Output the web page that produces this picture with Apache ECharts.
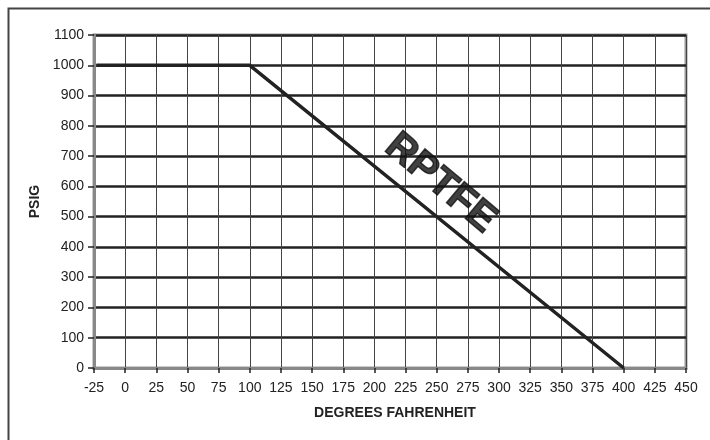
<!DOCTYPE html>
<html>
<head>
<meta charset="utf-8">
<script src="https://cdn.jsdelivr.net/npm/echarts@6/dist/echarts.min.js"></script>
<style>html,body{margin:0;padding:0;background:#fff}#c{width:710px;height:440px}</style>
</head>
<body>
<div id="c"></div>
<script>
var xName = 'DEGREES FAHRENHEIT';
var yName = 'PSIG';
var xMin = -25, xMax = 450, xStep = 25;
var yMin = 0, yMax = 1100, yStep = 100;
var ratingX = [-23, 100, 400];
var ratingY = [1000, 1000, 0];
var annotationText = 'RPTFE';
var annotationPoint = [253, 610];

var chart = echarts.init(document.getElementById('c'), null, {renderer: 'canvas'});
var lineData = ratingX.map(function (x, i) { return [x, ratingY[i]]; });
var font = '"Liberation Sans", Arial, Helvetica, sans-serif';
chart.setOption({
  animation: false,
  backgroundColor: '#fff',
  graphic: [{
    type: 'rect', left: 6, top: 6,
    shape: {width: 720, height: 450},
    style: {fill: 'none', stroke: '#444', lineWidth: 2}
  }],
  grid: {left: 94, top: 35, right: 24, bottom: 72, show: true, borderColor: '#999', borderWidth: 3, backgroundColor: '#fff'},
  xAxis: {
    type: 'value', min: xMin, max: xMax, interval: xStep,
    name: xName, nameLocation: 'middle', nameGap: 38,
    nameTextStyle: {fontFamily: font, fontSize: 14, fontWeight: 'bold', color: '#222', padding: [0, 0, 0, 10]},
    axisLine: {show: true, onZero: false, lineStyle: {color: '#888', width: 3}},
    axisTick: {show: true, length: 5, inside: false, lineStyle: {color: '#222', width: 1.5}},
    axisLabel: {fontFamily: font, fontSize: 14, color: '#222', margin: 13},
    splitLine: {show: true, lineStyle: {color: '#444', width: 1}}
  },
  yAxis: {
    type: 'value', min: yMin, max: yMax, interval: yStep,
    name: yName, nameLocation: 'middle', nameGap: 43, nameRotate: 90,
    nameTextStyle: {fontFamily: font, fontSize: 14, fontWeight: 'bold', color: '#222'},
    axisLine: {show: true, onZero: false, lineStyle: {color: '#888', width: 3}},
    axisTick: {show: true, length: 6, lineStyle: {color: '#222', width: 1.5}},
    axisLabel: {fontFamily: font, fontSize: 14, color: '#222', margin: 10,
      formatter: function (v) { return String(v); }},
    splitLine: {show: true, lineStyle: {color: '#222', width: 2.5}}
  },
  series: [{
    type: 'line', data: lineData, symbol: 'none',
    lineStyle: {color: '#222', width: 3.5}, z: 5
  }, {
    type: 'scatter', data: [annotationPoint], symbolSize: 1, silent: true,
    itemStyle: {color: 'rgba(0,0,0,0)'},
    label: {show: true, position: 'inside', formatter: annotationText, rotate: -40,
      fontFamily: font, fontSize: 40, fontWeight: 'bold', color: '#111',
      textBorderColor: '#111', textBorderWidth: 1.5}
  }]
});
</script>
</body>
</html>
